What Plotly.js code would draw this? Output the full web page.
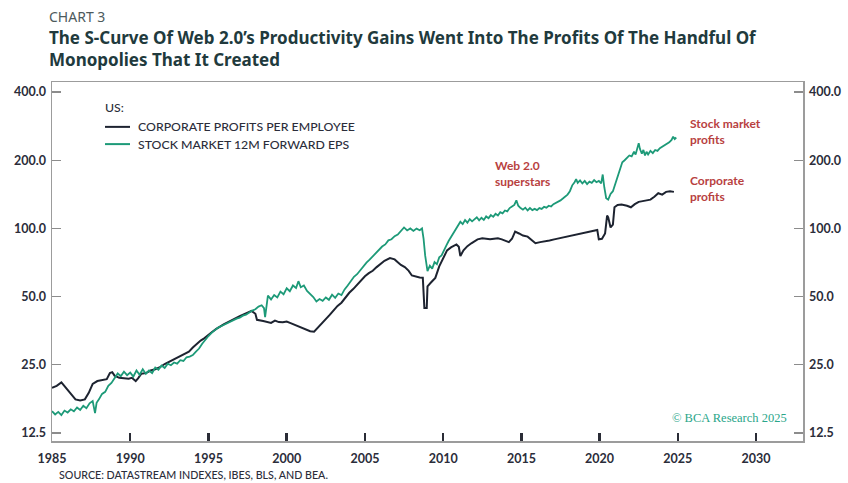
<!DOCTYPE html>
<html>
<head>
<meta charset="utf-8">
<script src="https://cdn.plot.ly/plotly-3.0.1.min.js"></script>
<style>
html,body{margin:0;padding:0;background:#fff;}
#chart{width:848px;height:483px;}
</style>
</head>
<body>
<div id="chart"></div>
<script>
// ---- Data ----
const epsYears = [1985.0,1985.2,1985.4,1985.6,1985.8,1986.0,1986.2,1986.4,1986.6,1986.8,1987.0,1987.2,1987.4,1987.6,1987.75,1987.85,1988.0,1988.2,1988.4,1988.6,1988.8,1989.0,1989.2,1989.4,1989.6,1989.8,1990.0,1990.2,1990.4,1990.6,1990.8,1991.0,1991.2,1991.4,1991.6,1991.8,1992.0,1992.2,1992.4,1992.6,1992.8,1993.0,1993.2,1993.4,1993.6,1993.8,1994.0,1994.2,1994.4,1994.6,1994.8,1995.0,1995.2,1995.4,1995.6,1995.8,1996.0,1996.2,1996.4,1996.6,1996.8,1997.0,1997.2,1997.4,1997.6,1997.8,1998.0,1998.2,1998.4,1998.55,1998.62,1998.7,1998.8,1999.0,1999.2,1999.4,1999.6,1999.8,2000.0,2000.2,2000.4,2000.6,2000.75,2000.9,2001.1,2001.3,2001.5,2001.7,2001.9,2002.1,2002.3,2002.5,2002.7,2002.9,2003.1,2003.3,2003.5,2003.7,2003.9,2004.1,2004.3,2004.5,2004.7,2004.9,2005.1,2005.3,2005.5,2005.7,2005.9,2006.1,2006.3,2006.5,2006.7,2006.9,2007.1,2007.3,2007.5,2007.7,2007.9,2008.1,2008.3,2008.5,2008.65,2008.75,2008.85,2009.0,2009.15,2009.3,2009.45,2009.6,2009.75,2009.9,2010.05,2010.2,2010.35,2010.5,2010.65,2010.8,2010.95,2011.1,2011.25,2011.4,2011.55,2011.7,2011.85,2012.0,2012.15,2012.3,2012.45,2012.6,2012.75,2012.9,2013.05,2013.2,2013.35,2013.5,2013.65,2013.8,2013.95,2014.1,2014.25,2014.4,2014.55,2014.68,2014.8,2014.95,2015.1,2015.25,2015.4,2015.55,2015.7,2015.85,2016.0,2016.15,2016.3,2016.45,2016.6,2016.75,2016.9,2017.05,2017.2,2017.35,2017.5,2017.65,2017.8,2017.95,2018.1,2018.25,2018.4,2018.5,2018.6,2018.75,2018.9,2019.05,2019.2,2019.35,2019.5,2019.65,2019.8,2019.95,2020.1,2020.2,2020.3,2020.42,2020.55,2020.7,2020.85,2021.0,2021.15,2021.3,2021.45,2021.6,2021.75,2021.9,2022.05,2022.2,2022.3,2022.4,2022.5,2022.58,2022.7,2022.8,2022.9,2023.0,2023.1,2023.25,2023.4,2023.55,2023.7,2023.85,2024.0,2024.15,2024.3,2024.45,2024.6,2024.7,2024.8,2024.9];
const epsValues = [15.6,15.1,15.5,15.0,15.7,15.4,15.9,15.6,16.2,15.8,16.5,16.1,16.9,17.3,15.3,17.0,17.6,18.6,19.0,20.2,20.8,21.8,22.9,22.3,23.3,22.5,23.1,22.2,23.6,22.6,23.9,22.8,23.6,23.0,24.3,23.8,24.8,24.2,25.3,24.9,25.6,25.3,26.2,26.0,27.0,27.2,27.6,28.6,29.5,31.0,32.3,33.5,34.6,35.6,36.4,37.0,37.6,38.4,38.8,39.4,40.0,40.4,41.2,41.6,42.6,43.4,44.0,45.2,45.8,44.5,40.6,46.0,50.5,48.6,50.8,49.6,52.6,51.2,54.4,52.8,56.0,54.6,58.5,55.0,56.0,53.0,51.5,49.8,47.6,48.8,47.9,49.6,48.4,51.0,49.4,51.6,50.8,53.8,56.0,58.6,61.2,62.8,65.4,68.0,70.6,72.8,75.2,78.0,80.6,83.2,85.0,88.6,89.6,92.4,94.0,97.0,101.0,98.0,100.0,97.5,99.8,98.2,100.0,90.0,76.0,64.8,68.5,66.5,71.0,69.5,74.5,76.0,80.5,84.0,88.0,91.5,96.0,99.5,104.0,107.0,104.5,109.0,106.0,110.0,107.5,109.5,112.0,108.5,111.5,109.0,113.0,111.0,114.5,112.5,116.0,114.0,118.0,116.5,120.0,119.0,123.0,125.0,127.0,133.0,126.0,123.0,121.0,123.5,120.0,123.0,120.5,122.0,120.5,123.0,122.0,124.5,123.5,126.0,125.0,128.0,129.5,131.5,133.0,135.5,138.0,141.0,146.0,155.0,160.0,165.0,159.0,163.0,158.0,162.0,157.0,161.0,159.0,163.5,160.0,162.0,158.0,173.0,152.0,136.0,134.0,142.0,146.0,158.0,170.0,184.0,196.0,200.0,205.0,210.0,208.0,218.0,212.0,226.0,238.0,224.0,214.0,222.0,210.0,218.0,212.0,220.0,215.0,222.0,220.0,226.0,229.0,232.0,236.0,240.0,246.0,254.0,248.0,252.0];

const profitYears = [1985.0,1985.3,1985.6,1985.9,1986.2,1986.5,1986.8,1987.1,1987.35,1987.6,1987.9,1988.2,1988.5,1988.7,1988.85,1989.0,1989.3,1989.6,1989.9,1990.1,1990.35,1990.5,1990.7,1991.0,1991.3,1991.6,1991.9,1992.2,1992.5,1992.75,1993.0,1993.25,1993.5,1993.75,1994.0,1994.25,1994.5,1994.75,1995.0,1995.25,1995.5,1995.75,1996.0,1996.25,1996.5,1996.75,1997.0,1997.25,1997.5,1997.75,1998.0,1998.1,1998.5,1998.75,1999.0,1999.25,1999.5,1999.75,2000.0,2000.25,2000.5,2000.75,2001.0,2001.25,2001.5,2001.75,2002.0,2002.25,2002.5,2002.75,2003.0,2003.25,2003.5,2003.75,2004.0,2004.25,2004.5,2004.75,2005.0,2005.25,2005.5,2005.75,2006.0,2006.25,2006.6,2006.9,2007.1,2007.3,2007.55,2007.8,2008.0,2008.25,2008.5,2008.7,2008.8,2008.95,2009.0,2009.25,2009.5,2009.75,2010.0,2010.25,2010.5,2010.85,2011.0,2011.1,2011.3,2011.55,2011.8,2012.2,2012.5,2012.75,2013.0,2013.25,2013.5,2013.75,2014.1,2014.2,2014.4,2014.6,2014.85,2015.1,2015.4,2015.7,2015.9,2016.2,2016.5,2016.8,2017.1,2017.4,2017.9,2018.3,2018.7,2019.0,2019.3,2019.6,2019.85,2019.95,2020.15,2020.35,2020.48,2020.55,2020.7,2020.85,2020.95,2021.15,2021.4,2021.75,2022.0,2022.25,2022.5,2022.75,2023.0,2023.25,2023.5,2023.75,2024.0,2024.25,2024.5,2024.75];
const profitValues = [19.8,20.2,20.9,19.8,18.6,17.6,17.4,17.6,18.8,20.6,21.2,21.4,21.6,23.0,23.2,22.4,21.9,21.8,21.7,21.9,21.2,21.8,22.8,23.0,23.6,23.9,24.4,25.2,25.8,26.5,27.0,27.4,28.0,28.6,29.8,31.0,32.0,32.8,34.0,35.0,36.0,37.0,37.8,38.6,39.5,40.2,41.0,41.8,42.3,43.2,42.0,39.5,39.0,38.5,38.3,39.2,38.6,38.5,38.8,38.2,37.6,37.0,36.4,35.6,35.2,35.0,36.5,38.3,39.5,41.5,43.5,45.5,47.0,49.5,52.0,54.0,56.5,58.5,61.5,63.5,65.0,67.5,70.0,72.0,74.0,73.0,71.0,69.0,67.5,65.0,62.0,61.2,60.8,60.6,44.5,44.5,55.5,58.0,60.5,68.0,74.0,80.0,82.5,85.0,83.0,75.5,80.0,83.5,86.0,89.5,90.5,90.0,89.5,90.0,90.5,89.5,88.0,87.0,90.0,96.8,95.0,93.0,92.0,88.0,86.0,87.0,87.5,88.5,89.5,90.5,91.5,93.0,94.5,95.5,96.5,97.5,98.5,89.5,90.0,95.0,114.0,112.0,101.0,104.0,124.0,127.0,127.5,126.0,124.0,128.0,131.0,132.0,133.0,134.0,138.0,143.0,141.0,145.0,146.0,145.0];

const xTickVals = [1985,1990,1995,2000,2005,2010,2015,2020,2025,2030];
const yTickVals = [12.5,25,50,100,200,400];
const yTickText = ["12.5","25.0","50.0","100.0","200.0","400.0"];
const seriesNames = ["CORPORATE PROFITS PER EMPLOYEE","STOCK MARKET 12M FORWARD EPS"];

// ---- Styling ----
const black = '#1d2330';
const green = '#1d9a78';
const red = '#b8413f';
const tickFont = {family:'Lato, "Open Sans", sans-serif', size:12.5, color:'#2b2d3a', weight:700};

const traces = [
  {x: profitYears, y: profitValues, type:'scatter', mode:'lines', name: seriesNames[0],
   line:{color:black, width:2}, showlegend:false, hoverinfo:'skip', xaxis:'x', yaxis:'y'},
  {x: epsYears, y: epsValues, type:'scatter', mode:'lines', name: seriesNames[1],
   line:{color:green, width:1.8}, showlegend:false, hoverinfo:'skip', xaxis:'x', yaxis:'y2'}
];

const yRange = [1.0617, 2.6464];
const yCommon = {
  type:'log', range:yRange, tickvals:yTickVals, ticktext:yTickText,
  ticks:'inside', ticklen:9, tickwidth:1.2, tickcolor:'#8c8c8c',
  showline:true, linecolor:'#9c9c9c', linewidth:1.5,
  showgrid:false, zeroline:false, tickfont:tickFont, fixedrange:true,
  ticklabelstandoff:2
};

const layout = {
  width:848, height:483,
  margin:{l:52, r:45, t:82, b:42, pad:0},
  paper_bgcolor:'#ffffff', plot_bgcolor:'#ffffff',
  showlegend:false,
  xaxis:{
    type:'linear', range:[1985, 2033], tickvals:xTickVals,
    ticks:'inside', ticklen:8, tickwidth:2.5, tickcolor:'#2a2c36',
    showline:true, linecolor:'#9c9c9c', linewidth:1.5, mirror:true,
    showgrid:false, zeroline:false, tickfont:tickFont, fixedrange:true,
    ticklabelstandoff:5
  },
  yaxis: Object.assign({}, yCommon, {side:'left'}),
  yaxis2: Object.assign({}, yCommon, {side:'right', overlaying:'y', anchor:'x'}),
  shapes:[
    {type:'line', xref:'paper', yref:'paper', x0:0.0706, x1:0.1039, y0:0.875, y1:0.875, line:{color:black, width:2}},
    {type:'line', xref:'paper', yref:'paper', x0:0.0706, x1:0.1039, y0:0.827, y1:0.827, line:{color:green, width:2}}
  ],
  annotations:[
    {xref:'paper', yref:'paper', x:-0.007, y:1.182, xanchor:'left', yanchor:'middle', showarrow:false,
     text:'CHART 3', font:{family:'"Noto Sans", "Open Sans", sans-serif', size:14, color:'#4d5a5c'}},
    {xref:'paper', yref:'paper', x:-0.007, y:1.093, xanchor:'left', yanchor:'middle', showarrow:false, align:'left',
     text:'<b>The S-Curve Of Web 2.0’s Productivity Gains Went Into The Profits Of The Handful Of<br>Monopolies That It Created</b>',
     font:{family:'"Noto Sans", "Open Sans", sans-serif', size:17, color:'#213a3d'}},
    {xref:'paper', yref:'paper', x:0.068, y:0.930, xanchor:'left', yanchor:'middle', showarrow:false,
     text:'US:', font:{family:'Lato, sans-serif', size:12.3, color:'#2b2d3a', weight:500}},
    {xref:'paper', yref:'paper', x:0.112, y:0.875, xanchor:'left', yanchor:'middle', showarrow:false,
     text:seriesNames[0], font:{family:'Lato, sans-serif', size:12.3, color:'#2b2d3a', weight:500}},
    {xref:'paper', yref:'paper', x:0.112, y:0.827, xanchor:'left', yanchor:'middle', showarrow:false,
     text:seriesNames[1], font:{family:'Lato, sans-serif', size:12.3, color:'#2b2d3a', weight:500}},
    {xref:'paper', yref:'paper', x:0.847, y:0.861, xanchor:'left', yanchor:'middle', showarrow:false, align:'left',
     text:'<b>Stock market<br>profits</b>', font:{family:'Lato, sans-serif', size:12, color:red}},
    {xref:'paper', yref:'paper', x:0.587, y:0.744, xanchor:'left', yanchor:'middle', showarrow:false, align:'left',
     text:'<b>Web 2.0<br>superstars</b>', font:{family:'Lato, sans-serif', size:12, color:red}},
    {xref:'paper', yref:'paper', x:0.847, y:0.702, xanchor:'left', yanchor:'middle', showarrow:false, align:'left',
     text:'<b>Corporate<br>profits</b>', font:{family:'Lato, sans-serif', size:12, color:red}},
    {xref:'paper', yref:'paper', x:0.981, y:0.064, xanchor:'right', yanchor:'middle', showarrow:false,
     text:'© BCA Research 2025', font:{family:'"Liberation Serif", "DejaVu Serif", serif', size:12.5, color:'#2aa68a'}},
    {xref:'paper', yref:'paper', x:0.007, y:-0.092, xanchor:'left', yanchor:'middle', showarrow:false,
     text:'SOURCE: DATASTREAM INDEXES, IBES, BLS, AND BEA.', font:{family:'Lato, sans-serif', size:10.7, color:'#2b2d3a', weight:500}}
  ]
};

Plotly.newPlot('chart', traces, layout, {displayModeBar:false, staticPlot:true});
</script>
</body>
</html>
